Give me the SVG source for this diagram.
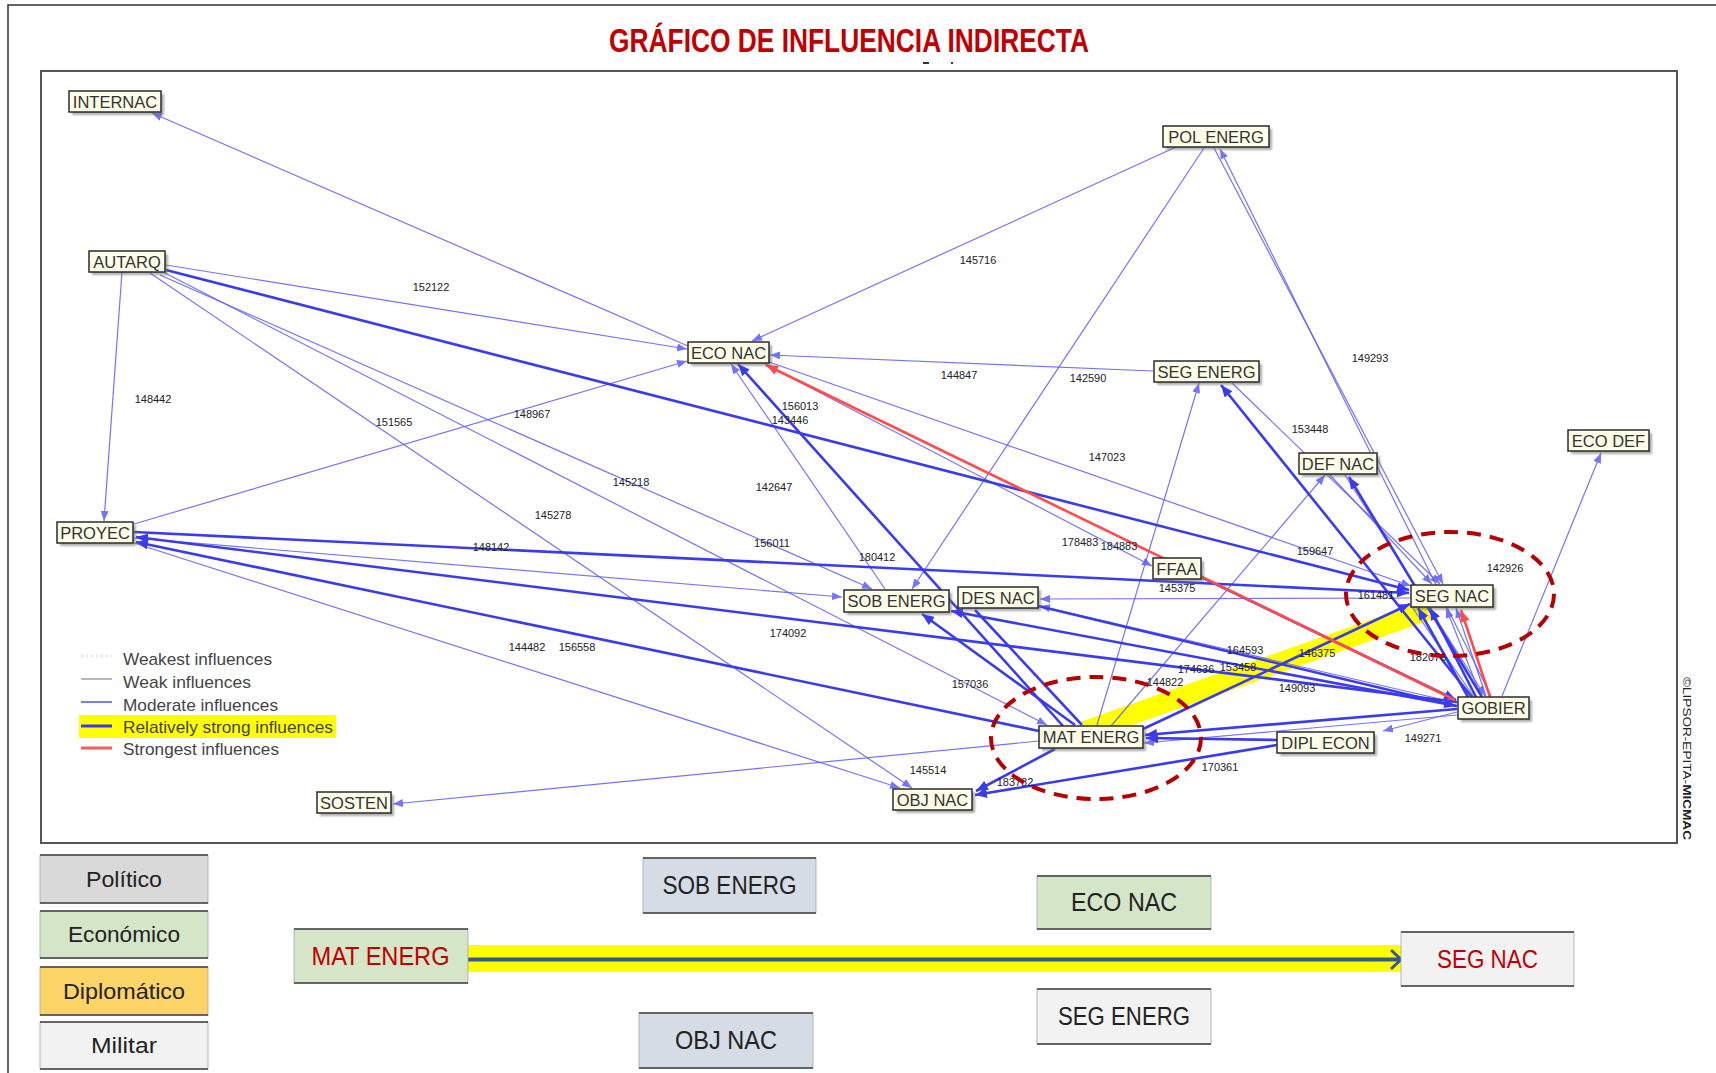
<svg xmlns="http://www.w3.org/2000/svg" width="1716" height="1073" viewBox="0 0 1716 1073">
<style>
  .frame{fill:none;stroke:#333;stroke-width:1.5}
  .plot{fill:#fff;stroke:#555;stroke-width:2}
  .sh{fill:#6b6b6b;opacity:.55}
  .bx{fill:#fdfde8;stroke:#2b2b2b;stroke-width:1.5}
  .nl{font-family:"Liberation Sans",Arial,sans-serif;font-size:16.5px;fill:#333;text-anchor:middle}
  .num{font-family:"Liberation Sans",Arial,sans-serif;font-size:11px;fill:#222;text-anchor:middle}
  .m{stroke:#5c5cf6;stroke-width:1.2;opacity:.85;fill:none}
  .s{stroke:#3b3bee;stroke-width:2.6;fill:none}
  .r{stroke:#ff4d4d;stroke-width:2.6;fill:none}
  .ell{fill:none;stroke:#b50000;stroke-width:4;stroke-dasharray:14 9}
  .lg{font-family:"Liberation Sans",Arial,sans-serif;font-size:17px;fill:#444}
  .cat{font-family:"Liberation Sans",Arial,sans-serif;font-size:22px;fill:#222;text-anchor:middle}
  .big{font-family:"Liberation Sans",Arial,sans-serif;font-size:25px;fill:#222;text-anchor:middle}
  .red{fill:#c00000}
  .edge{stroke:#404040;stroke-width:1.6}
  .side{fill:none;stroke:#a6a6a6;stroke-width:.8}
</style>
<defs>
  <marker id="am" markerUnits="userSpaceOnUse" markerWidth="10" markerHeight="8" refX="10" refY="4" orient="auto"><path d="M0,0 L10,4 L0,8 z" fill="#5c5cf6"/></marker>
  <marker id="as" markerUnits="userSpaceOnUse" markerWidth="12" markerHeight="10" refX="12" refY="5" orient="auto"><path d="M0,0 L12,5 L0,10 z" fill="#3b3bee"/></marker>
  <marker id="ar" markerUnits="userSpaceOnUse" markerWidth="12" markerHeight="10" refX="12" refY="5" orient="auto"><path d="M0,0 L12,5 L0,10 z" fill="#ff4d4d"/></marker>
  <filter id="blur" x="-10%" y="-30%" width="120%" height="160%"><feGaussianBlur stdDeviation="1"/></filter>
</defs>

<rect width="1716" height="1073" fill="#fff"/>
<rect class="frame" x="8" y="5" width="1720" height="1080"/>

<text x="609" y="52" font-family="'Liberation Sans',Arial,sans-serif" font-weight="bold" font-size="33" fill="#c00000" textLength="480" lengthAdjust="spacingAndGlyphs">GRÁFICO DE INFLUENCIA INDIRECTA</text>
<path d="M923,63 h6 M951,63 h2" stroke="#333" stroke-width="2"/>

<rect class="plot" x="41" y="71" width="1636" height="772"/>

<text transform="translate(1683,677) rotate(90)" font-family="'Liberation Sans',Arial,sans-serif" font-size="11" fill="#222" textLength="163" lengthAdjust="spacingAndGlyphs">©LIPSOR-EPITA-<tspan font-weight="bold">MICMAC</tspan></text>

<!-- highlight band -->
<line x1="1085" y1="731" x2="1428" y2="610" stroke="#ffff00" stroke-width="20"/>

<g id="connectors">
  <line class="m" x1="688" y1="346" x2="152" y2="113" marker-end="url(#am)"/>
  <line class="m" x1="166" y1="265" x2="687" y2="349" marker-end="url(#am)"/>
  <line class="m" x1="122" y1="272" x2="104" y2="521" marker-end="url(#am)"/>
  <line class="m" x1="134" y1="524" x2="687" y2="361" marker-end="url(#am)"/>
  <line class="m" x1="160" y1="275" x2="872" y2="589" marker-end="url(#am)"/>
  <line class="m" x1="165" y1="273" x2="1047" y2="725" marker-end="url(#am)"/>
  <line class="m" x1="150" y1="273" x2="912" y2="788" marker-end="url(#am)"/>
  <line class="m" x1="1176" y1="147" x2="752" y2="341" marker-end="url(#am)"/>
  <line class="m" x1="1204" y1="148" x2="912" y2="589" marker-end="url(#am)"/>
  <line class="m" x1="1214" y1="148" x2="1443" y2="584" marker-end="url(#am)"/>
  <line class="m" x1="1491" y1="696" x2="1220" y2="149" marker-end="url(#am)"/>
  <line class="m" x1="1153" y1="371" x2="770" y2="355" marker-end="url(#am)"/>
  <line class="m" x1="1097" y1="725" x2="1199" y2="383" marker-end="url(#am)"/>
  <line class="m" x1="1232" y1="383" x2="1440" y2="584" marker-end="url(#am)"/>
  <line class="m" x1="1111" y1="726" x2="1325" y2="475" marker-end="url(#am)"/>
  <line class="m" x1="1330" y1="475" x2="1432" y2="584" marker-end="url(#am)"/>
  <line class="m" x1="1345" y1="475" x2="1485" y2="696" marker-end="url(#am)"/>
  <line class="m" x1="1502" y1="696" x2="1601" y2="453" marker-end="url(#am)"/>
  <line class="m" x1="769" y1="362" x2="1411" y2="586" marker-end="url(#am)"/>
  <line class="m" x1="765" y1="364" x2="1152" y2="566" marker-end="url(#am)"/>
  <line class="m" x1="885" y1="589" x2="731" y2="364" marker-end="url(#am)"/>
  <line class="m" x1="134" y1="538" x2="842" y2="597" marker-end="url(#am)"/>
  <line class="m" x1="134" y1="543" x2="900" y2="788" marker-end="url(#am)"/>
  <line class="m" x1="1410" y1="598" x2="1040" y2="599" marker-end="url(#am)"/>
  <line class="m" x1="1457" y1="703" x2="1040" y2="606" marker-end="url(#am)"/>
  <line class="m" x1="1457" y1="712" x2="1383" y2="731" marker-end="url(#am)"/>
  <line class="m" x1="1039" y1="741" x2="393" y2="804" marker-end="url(#am)"/>
  <line class="m" x1="1486" y1="696" x2="1456" y2="608" marker-end="url(#am)"/>
  <line class="m" x1="1481" y1="696" x2="1446" y2="608" marker-end="url(#am)"/>
  <line class="m" x1="1457" y1="715" x2="1144" y2="743" marker-end="url(#am)"/>
  <line class="m" x1="1412" y1="607" x2="1474" y2="697"/>

  <line class="s" x1="166" y1="270" x2="1409" y2="590" marker-end="url(#as)"/>
  <line class="s" x1="134" y1="532" x2="1409" y2="593" marker-end="url(#as)"/>
  <line class="s" x1="1457" y1="702" x2="136" y2="537" marker-end="url(#as)"/>
  <line class="s" x1="1039" y1="731" x2="136" y2="542" marker-end="url(#as)"/>
  <line class="s" x1="1063" y1="726" x2="738" y2="364" marker-end="url(#as)"/>
  <line class="s" x1="1075" y1="725" x2="922" y2="614" marker-end="url(#as)"/>
  <line class="s" x1="1082" y1="725" x2="975" y2="610"/>
  <line class="s" x1="1038" y1="606" x2="1456" y2="706" marker-end="url(#as)"/>
  <line class="s" x1="1457" y1="706" x2="951" y2="611" marker-end="url(#as)"/>
  <line class="s" x1="1472" y1="697" x2="1221" y2="385" marker-end="url(#as)"/>
  <line class="s" x1="1482" y1="697" x2="1349" y2="477" marker-end="url(#as)"/>
  <line class="s" x1="1201" y1="577" x2="1456" y2="700" marker-end="url(#as)"/>
  <line class="s" x1="1143" y1="729" x2="1410" y2="604" marker-end="url(#as)"/>
  <line class="s" x1="1457" y1="709" x2="1145" y2="735" marker-end="url(#as)"/>
  <line class="s" x1="1277" y1="740" x2="1146" y2="738" marker-end="url(#as)"/>
  <line class="s" x1="1277" y1="745" x2="975" y2="795" marker-end="url(#as)"/>
  <line class="s" x1="1055" y1="749" x2="976" y2="791" marker-end="url(#as)"/>
  <line class="s" x1="1476" y1="697" x2="1430" y2="608" marker-end="url(#as)"/>
  <line class="s" x1="1468" y1="697" x2="1418" y2="608" marker-end="url(#as)"/>

  <line class="r" x1="1455" y1="700" x2="766" y2="365" marker-end="url(#ar)"/>
  <line class="r" x1="1490" y1="697" x2="1461" y2="610" marker-end="url(#ar)"/>
</g>

<g id="edge-labels">
  <text class="num" x="431" y="291">152122</text>
  <text class="num" x="153" y="403">148442</text>
  <text class="num" x="394" y="426">151565</text>
  <text class="num" x="978" y="264">145716</text>
  <text class="num" x="959" y="379">144847</text>
  <text class="num" x="1088" y="382">142590</text>
  <text class="num" x="1370" y="362">149293</text>
  <text class="num" x="1310" y="433">153448</text>
  <text class="num" x="1107" y="461">147023</text>
  <text class="num" x="800" y="410">156013</text>
  <text class="num" x="790" y="424">143446</text>
  <text class="num" x="631" y="486">145218</text>
  <text class="num" x="774" y="491">142647</text>
  <text class="num" x="553" y="519">145278</text>
  <text class="num" x="532" y="418">148967</text>
  <text class="num" x="772" y="547">156011</text>
  <text class="num" x="877" y="561">180412</text>
  <text class="num" x="491" y="551">148142</text>
  <text class="num" x="788" y="637">174092</text>
  <text class="num" x="527" y="651">144482</text>
  <text class="num" x="577" y="651">156558</text>
  <text class="num" x="970" y="688">157036</text>
  <text class="num" x="1165" y="686">144822</text>
  <text class="num" x="928" y="774">145514</text>
  <text class="num" x="1015" y="786">183782</text>
  <text class="num" x="1220" y="771">170361</text>
  <text class="num" x="1245" y="654">164593</text>
  <text class="num" x="1196" y="673">174636</text>
  <text class="num" x="1238" y="671">153458</text>
  <text class="num" x="1317" y="657">146375</text>
  <text class="num" x="1297" y="692">149093</text>
  <text class="num" x="1177" y="592">145375</text>
  <text class="num" x="1080" y="546">178483</text>
  <text class="num" x="1119" y="550">184883</text>
  <text class="num" x="1315" y="555">159647</text>
  <text class="num" x="1505" y="572">142926</text>
  <text class="num" x="1376" y="599">161481</text>
  <text class="num" x="1428" y="661">182076</text>
  <text class="num" x="1423" y="742">149271</text>
</g>

<ellipse class="ell" cx="1096" cy="738" rx="105" ry="61"/>
<ellipse class="ell" cx="1450" cy="594" rx="104" ry="62"/>

<g id="n-internac"><rect class="sh" filter="url(#blur)" x="72" y="94" width="92" height="21"/><rect class="bx" x="69" y="91" width="92" height="21"/><text class="nl" x="115" y="107.5">INTERNAC</text></g>
<g id="n-polenerg"><rect class="sh" filter="url(#blur)" x="1166" y="129" width="106" height="21"/><rect class="bx" x="1163" y="126" width="106" height="21"/><text class="nl" x="1216" y="142.5">POL ENERG</text></g>
<g id="n-autarq"><rect class="sh" filter="url(#blur)" x="92" y="254" width="76" height="21"/><rect class="bx" x="89" y="251" width="76" height="21"/><text class="nl" x="127" y="267.5">AUTARQ</text></g>
<g id="n-econac"><rect class="sh" filter="url(#blur)" x="691" y="345" width="81" height="21"/><rect class="bx" x="688" y="342" width="81" height="21"/><text class="nl" x="728.5" y="358.5">ECO NAC</text></g>
<g id="n-segenerg"><rect class="sh" filter="url(#blur)" x="1157" y="364" width="105" height="21"/><rect class="bx" x="1154" y="361" width="105" height="21"/><text class="nl" x="1206.5" y="377.5">SEG ENERG</text></g>
<g id="n-ecodef"><rect class="sh" filter="url(#blur)" x="1571" y="433" width="81" height="21"/><rect class="bx" x="1568" y="430" width="81" height="21"/><text class="nl" x="1608.5" y="446.5">ECO DEF</text></g>
<g id="n-defnac"><rect class="sh" filter="url(#blur)" x="1302" y="456" width="78" height="21"/><rect class="bx" x="1299" y="453" width="78" height="21"/><text class="nl" x="1338" y="469.5">DEF NAC</text></g>
<g id="n-proyec"><rect class="sh" filter="url(#blur)" x="60" y="525" width="76" height="21"/><rect class="bx" x="57" y="522" width="76" height="21"/><text class="nl" x="95" y="538.5">PROYEC</text></g>
<g id="n-ffaa"><rect class="sh" filter="url(#blur)" x="1156" y="561" width="48" height="21"/><rect class="bx" x="1153" y="558" width="48" height="21"/><text class="nl" x="1177" y="574.5">FFAA</text></g>
<g id="n-segnac"><rect class="sh" filter="url(#blur)" x="1414" y="588" width="82" height="22"/><rect class="bx" x="1411" y="585" width="82" height="22"/><text class="nl" x="1452" y="602">SEG NAC</text></g>
<g id="n-sobenerg"><rect class="sh" filter="url(#blur)" x="847" y="593" width="105" height="22"/><rect class="bx" x="844" y="590" width="105" height="22"/><text class="nl" x="896.5" y="607">SOB ENERG</text></g>
<g id="n-desnac"><rect class="sh" filter="url(#blur)" x="961" y="590" width="80" height="21"/><rect class="bx" x="958" y="587" width="80" height="21"/><text class="nl" x="998" y="603.5">DES NAC</text></g>
<g id="n-gobier"><rect class="sh" filter="url(#blur)" x="1461" y="700" width="71" height="22"/><rect class="bx" x="1458" y="697" width="71" height="22"/><text class="nl" x="1493.5" y="714">GOBIER</text></g>
<g id="n-matenerg"><rect class="sh" filter="url(#blur)" x="1042" y="729" width="104" height="22"/><rect class="bx" x="1039" y="726" width="104" height="22"/><text class="nl" x="1091" y="743">MAT ENERG</text></g>
<g id="n-diplecon"><rect class="sh" filter="url(#blur)" x="1280" y="735" width="97" height="21"/><rect class="bx" x="1277" y="732" width="97" height="21"/><text class="nl" x="1325.5" y="748.5">DIPL ECON</text></g>
<g id="n-sosten"><rect class="sh" filter="url(#blur)" x="320" y="795" width="74" height="21"/><rect class="bx" x="317" y="792" width="74" height="21"/><text class="nl" x="354" y="808.5">SOSTEN</text></g>
<g id="n-objnac"><rect class="sh" filter="url(#blur)" x="896" y="792" width="79" height="21"/><rect class="bx" x="893" y="789" width="79" height="21"/><text class="nl" x="932.5" y="805.5">OBJ NAC</text></g>

<g id="legend">
  <rect x="79" y="715" width="257" height="23" fill="#ffff00"/>
  <line x1="81" y1="656" x2="112" y2="656" stroke="#c8c8c8" stroke-width="1.2" stroke-dasharray="2 3"/>
  <line x1="81" y1="679" x2="112" y2="679" stroke="#888" stroke-width="1.2"/>
  <line x1="81" y1="702" x2="112" y2="702" stroke="#5c5cf6" stroke-width="1.6"/>
  <line x1="81" y1="726" x2="112" y2="726" stroke="#3b3bee" stroke-width="3"/>
  <line x1="81" y1="748" x2="112" y2="748" stroke="#ff5a5a" stroke-width="3"/>
  <text class="lg" x="123" y="665" textLength="149" lengthAdjust="spacingAndGlyphs">Weakest influences</text>
  <text class="lg" x="123" y="688" textLength="128" lengthAdjust="spacingAndGlyphs">Weak influences</text>
  <text class="lg" x="123" y="711" textLength="155" lengthAdjust="spacingAndGlyphs">Moderate influences</text>
  <text class="lg" x="123" y="733" textLength="210" lengthAdjust="spacingAndGlyphs">Relatively strong influences</text>
  <text class="lg" x="123" y="755" textLength="156" lengthAdjust="spacingAndGlyphs">Strongest influences</text>
</g>

<g id="cat-politico"><rect x="40" y="855" width="168" height="48" fill="#d9d9d9"/><rect class="side" x="40" y="855" width="168" height="48"/><path class="edge" d="M40,855 h168 M40,903 h168"/><text class="cat" x="124" y="887" textLength="76" lengthAdjust="spacingAndGlyphs">Político</text></g>
<g id="cat-economico"><rect x="40" y="911" width="168" height="47" fill="#d5e6c8"/><rect class="side" x="40" y="911" width="168" height="47"/><path class="edge" d="M40,911 h168 M40,958 h168"/><text class="cat" x="124" y="942" textLength="112" lengthAdjust="spacingAndGlyphs">Económico</text></g>
<g id="cat-diplomatico"><rect x="40" y="967" width="168" height="48" fill="#fdd466"/><rect class="side" x="40" y="967" width="168" height="48"/><path class="edge" d="M40,967 h168 M40,1015 h168"/><text class="cat" x="124" y="999" textLength="122" lengthAdjust="spacingAndGlyphs">Diplomático</text></g>
<g id="cat-militar"><rect x="40" y="1022" width="168" height="47" fill="#f2f2f2"/><rect class="side" x="40" y="1022" width="168" height="47"/><path class="edge" d="M40,1022 h168 M40,1069 h168"/><text class="cat" x="124" y="1053" textLength="66" lengthAdjust="spacingAndGlyphs">Militar</text></g>

<g id="ex-arrow">
  <rect x="468" y="945" width="933" height="27" fill="#ffff00"/>
  <line x1="468" y1="959.5" x2="1399" y2="959.5" stroke="#34598a" stroke-width="4"/>
  <path d="M1391,950 L1401,959.5 L1391,969" fill="none" stroke="#34598a" stroke-width="3"/>
</g>
<g id="ex-sobenerg"><rect x="643" y="858" width="173" height="55" fill="#d6dce5"/><rect class="side" x="643" y="858" width="173" height="55"/><path class="edge" d="M643,858 h173 M643,913 h173"/><text class="big" x="729.5" y="894" textLength="134" lengthAdjust="spacingAndGlyphs">SOB ENERG</text></g>
<g id="ex-econac"><rect x="1037" y="876" width="174" height="53" fill="#d5e6c8"/><rect class="side" x="1037" y="876" width="174" height="53"/><path class="edge" d="M1037,876 h174 M1037,929 h174"/><text class="big" x="1124" y="911" textLength="106" lengthAdjust="spacingAndGlyphs">ECO NAC</text></g>
<g id="ex-matenerg"><rect x="294" y="929" width="174" height="54" fill="#d5e6c8"/><rect class="side" x="294" y="929" width="174" height="54"/><path class="edge" d="M294,929 h174 M294,983 h174"/><text class="big red" x="380.5" y="965" textLength="138" lengthAdjust="spacingAndGlyphs">MAT ENERG</text></g>
<g id="ex-segnac"><rect x="1401" y="932" width="173" height="54" fill="#f2f2f2"/><rect class="side" x="1401" y="932" width="173" height="54"/><path class="edge" d="M1401,932 h173 M1401,986 h173"/><text class="big red" x="1487.5" y="968" textLength="101" lengthAdjust="spacingAndGlyphs">SEG NAC</text></g>
<g id="ex-segenerg"><rect x="1037" y="989" width="174" height="55" fill="#f2f2f2"/><rect class="side" x="1037" y="989" width="174" height="55"/><path class="edge" d="M1037,989 h174 M1037,1044 h174"/><text class="big" x="1124" y="1025" textLength="132" lengthAdjust="spacingAndGlyphs">SEG ENERG</text></g>
<g id="ex-objnac"><rect x="639" y="1013" width="174" height="55" fill="#d6dce5"/><rect class="side" x="639" y="1013" width="174" height="55"/><path class="edge" d="M639,1013 h174 M639,1068 h174"/><text class="big" x="726" y="1049" textLength="102" lengthAdjust="spacingAndGlyphs">OBJ NAC</text></g>
</svg>
